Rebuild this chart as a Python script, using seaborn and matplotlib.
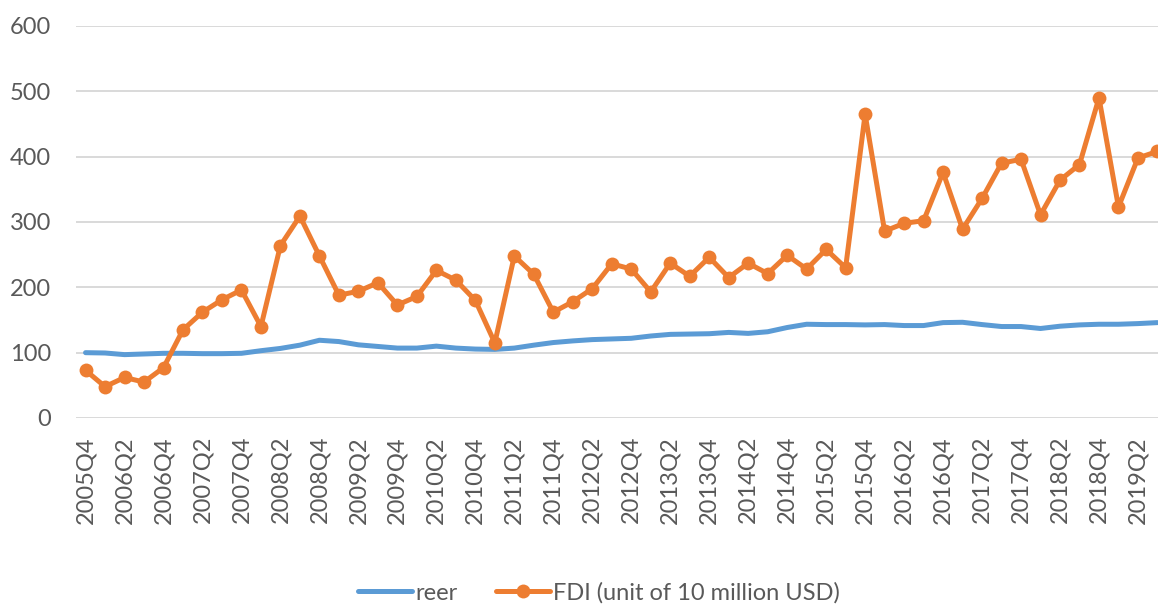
import matplotlib
matplotlib.use("Agg")
import matplotlib.pyplot as plt
import seaborn as sns
import pandas as pd

# Quarterly series, 2005Q4 .. 2019Q3
quarters = [f"{y}Q{q}" for y in range(2005, 2020) for q in range(1, 5)][3:-1]

reer = [100, 99.5, 97, 98, 99, 99, 98.5, 98.5, 99, 103,
        106.5, 111.5, 119, 117, 112, 109.5, 107, 107, 110, 107,
        105.5, 105, 107, 111.5, 115.5, 118, 120, 121, 122, 125.5,
        128, 128.5, 129, 131, 129.5, 132, 138.5, 143.5, 143, 143,
        142.5, 143, 141.5, 141.5, 146, 146.5, 143, 140, 140, 137,
        140.5, 142.5, 143.5, 143.5, 144.5, 146]

fdi = [73, 48, 62, 55, 77, 135, 162, 181, 196, 140,
       264, 309, 248, 188, 194, 207, 173, 186, 226, 211,
       180, 115, 248, 220, 162, 178, 198, 236, 228, 193,
       237, 217, 246, 215, 237, 221, 249, 228, 258, 230,
       465, 286, 298, 302, 376, 289, 336, 390, 396, 311,
       364, 388, 490, 323, 398, 408]

series_names = ["reer", "FDI (unit of 10 million USD)"]
yticks = [0, 100, 200, 300, 400, 500, 600]

df = pd.DataFrame({"quarter": quarters, "reer": reer, "fdi": fdi})

sns.set_theme(style="white")
plt.rcParams["font.family"] = ["Lato", "DejaVu Sans"]

BLUE = "#5B9BD5"
ORANGE = "#ED7D31"
GRID = "#D9D9D9"
TEXT = "#595959"
FS = 17

W, H = 1158, 605
fig = plt.figure(figsize=(W / 100, H / 100), dpi=100)
# plot area runs past the right edge of the canvas
left_px, right_px = 75.8, 1167.2
top_px, bottom_px = 26, 418
ax = fig.add_axes([left_px / W, (H - bottom_px) / H,
                   (right_px - left_px) / W, (bottom_px - top_px) / H])

sns.lineplot(data=df, x="quarter", y="reer", ax=ax, sort=False,
             color=BLUE, linewidth=3.6, label=series_names[0],
             solid_capstyle="round", solid_joinstyle="round", zorder=3)
sns.lineplot(data=df, x="quarter", y="fdi", ax=ax, sort=False,
             color=ORANGE, linewidth=3.6, marker="o", markersize=10,
             markeredgewidth=0, label=series_names[1],
             solid_capstyle="round", solid_joinstyle="round", zorder=4)

ax.set_xlim(-0.5, len(quarters) - 0.5)
ax.set_ylim(0, 600)
ax.set_yticks(yticks)
ax.set_yticklabels([str(v) for v in yticks])
ax.set_xticks(range(0, len(quarters), 2))
ax.set_xticklabels(quarters[::2], rotation=90)

ax.grid(axis="y", color=GRID, linewidth=1.4)
ax.grid(axis="x", visible=False)
ax.set_axisbelow(True)
for s in ax.spines.values():
    s.set_visible(False)
ax.tick_params(axis="y", length=0, pad=18, labelsize=FS, labelcolor=TEXT)
ax.tick_params(axis="x", length=0, pad=13, labelsize=FS, labelcolor=TEXT)
ax.set_xlabel("")
ax.set_ylabel("")

handles, labels = ax.get_legend_handles_labels()
ax.get_legend().remove()
leg = fig.legend(handles, labels, loc="center", ncol=2, frameon=False,
                 bbox_to_anchor=(599 / W, (H - 593) / H),
                 handlelength=2.3, handletextpad=0.15, columnspacing=1.6,
                 prop={"size": FS})
for t in leg.get_texts():
    t.set_color(TEXT)

fig.savefig("out.png", dpi=100)
